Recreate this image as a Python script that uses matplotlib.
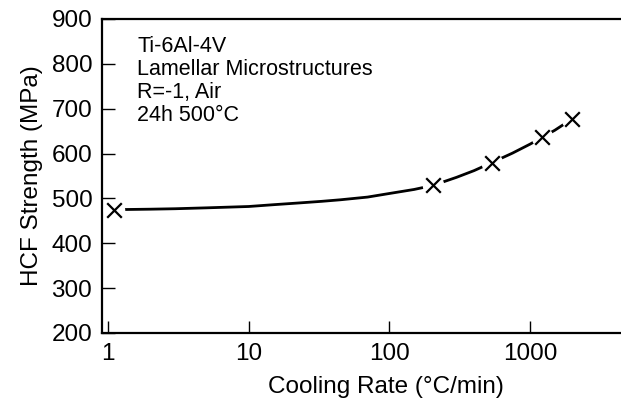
import matplotlib

matplotlib.use("Agg")
import matplotlib.pyplot as plt

plt.rcParams["font.family"] = ["Liberation Sans", "DejaVu Sans"]

# measured fatigue strengths
rate = [1.1, 204, 536, 1215, 1985]
strength = [475, 529, 580, 636, 677]

# trend curve drawn through the data
curve_rate = [1.1, 1.5, 2, 3, 5, 10, 15, 23, 33, 45, 70, 100, 150, 204,
              300, 400, 536, 750, 1000, 1215, 1500, 1985]
curve_strength = [475, 475.5, 476, 477, 479, 482, 486, 490, 493.5, 497, 503, 511, 520, 529,
                  547, 562, 580, 601, 621, 636, 652, 677]

xticks = [1, 10, 100, 1000]
yticks = [200, 300, 400, 500, 600, 700, 800, 900]

fig = plt.figure(figsize=(6.21, 4.03), dpi=100)
ax = fig.add_axes([0.1643, 0.1737, 0.8357, 0.7792])

ax.plot(curve_rate, curve_strength, color="black", linewidth=2.0, zorder=2)
ax.scatter(rate, strength, s=210, marker="o", color="white", zorder=3)
ax.scatter(rate, strength, s=110, marker="x", color="black", linewidths=1.6, zorder=4)

ax.set_xscale("log")
ax.set_xlim(0.906, 4430)
ax.set_ylim(200, 900)
ax.set_xticks(xticks)
ax.set_xticklabels([str(t) for t in xticks])
ax.minorticks_off()
ax.set_yticks(yticks)

for side in ("left", "bottom", "top"):
    ax.spines[side].set_linewidth(1.6)
ax.spines["right"].set_visible(False)
ax.tick_params(direction="in", length=9, width=1, labelsize=17.5, pad=7)

ax.set_xlabel("Cooling Rate (°C/min)", fontsize=17.5)
ax.xaxis.set_label_coords(0.547, -0.137)
ax.set_ylabel("HCF Strength (MPa)", fontsize=17.5, labelpad=6)

ax.text(0.068, 0.945, "Ti-6Al-4V\nLamellar Microstructures\nR=-1, Air\n24h 500°C",
        transform=ax.transAxes, fontsize=15.5, va="top", ha="left", linespacing=1.12)

fig.savefig("out.png", dpi=100)
